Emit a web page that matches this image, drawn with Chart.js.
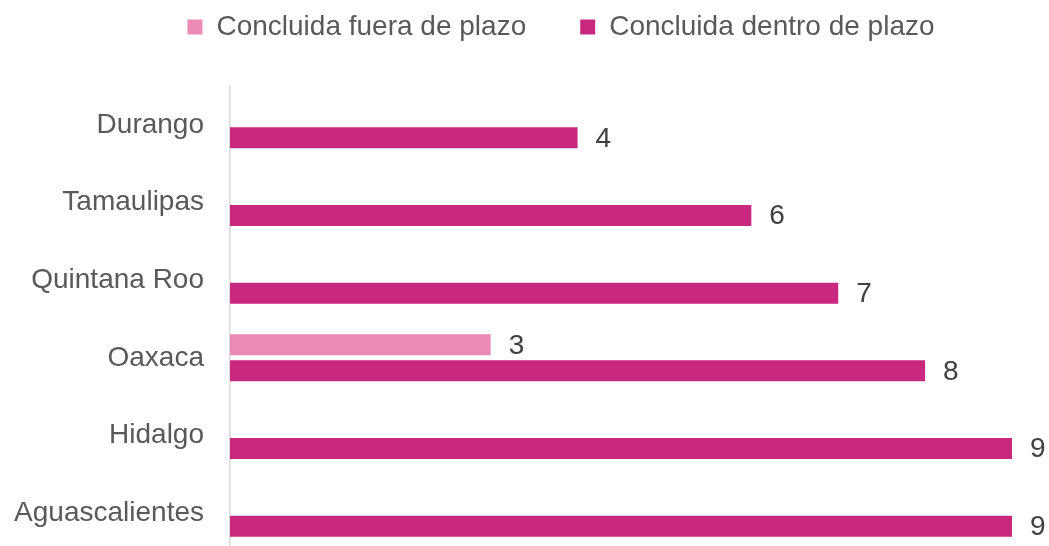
<!DOCTYPE html>
<html>
<head>
<meta charset="utf-8">
<script src="https://cdn.jsdelivr.net/npm/chart.js@4/dist/chart.umd.min.js"></script>
<style>
    html, body { margin: 0; padding: 0; background: #ffffff; overflow: hidden; }
    #chart { display: block; }
</style>
</head>
<body>
<canvas id="chart" width="1049" height="552"></canvas>
<script>
// Chart data
const estados = ['Durango', 'Tamaulipas', 'Quintana Roo', 'Oaxaca', 'Hidalgo', 'Aguascalientes'];
const fueraDePlazo = [null, null, null, 3, null, null];
const dentroDePlazo = [4, 6, 7, 8, 9, 9];
const seriesNames = ['Concluida fuera de plazo', 'Concluida dentro de plazo'];

const FONT = '"Liberation Sans", Arial, sans-serif';

// Put the legend where the original has it
const legendSpot = {
    id: 'legendSpot',
    beforeLayout(chart) {
        const legend = chart.legend;
        if (!legend || legend._fitPatched) return;
        const fit = legend.fit;
        legend.fit = function () {
            fit.call(this);
            this.height = 86;
        };
        legend._fitPatched = true;
    },
    afterLayout(chart) {
        const legend = chart.legend;
        legend.top = -41;
        legend.left += 55;
        legend.right += 55;
    }
};

// Value labels at the end of each bar
const barValues = {
    id: 'barValues',
    afterDatasetsDraw(chart) {
        const ctx = chart.ctx;
        ctx.save();
        ctx.font = '28px ' + FONT;
        ctx.fillStyle = '#404040';
        ctx.textAlign = 'left';
        ctx.textBaseline = 'middle';
        chart.data.datasets.forEach((ds, i) => {
            const meta = chart.getDatasetMeta(i);
            meta.data.forEach((bar, j) => {
                const v = ds.data[j];
                if (v === null || v === undefined) return;
                ctx.fillText(String(v), bar.x + 18, bar.y + 1);
            });
        });
        ctx.restore();
    }
};

const ctx = document.getElementById('chart').getContext('2d');
new Chart(ctx, {
    type: 'bar',
    data: {
        labels: estados,
        datasets: [{
            label: seriesNames[0],
            data: fueraDePlazo,
            backgroundColor: '#EC8AB6',
            categoryPercentage: 0.669,
            barPercentage: 0.808
        }, {
            label: seriesNames[1],
            data: dentroDePlazo,
            backgroundColor: '#C9287E',
            categoryPercentage: 0.669,
            barPercentage: 0.808
        }]
    },
    options: {
        indexAxis: 'y',
        responsive: false,
        animation: false,
        layout: { padding: { left: 0, right: 37, top: 0, bottom: 0 } },
        scales: {
            x: {
                display: false,
                min: 0,
                max: 9
            },
            y: {
                grid: { display: false },
                border: { display: true, color: '#D9D9D9', width: 1.5 },
                ticks: {
                    color: '#595959',
                    padding: 18,
                    font: { family: FONT, size: 28 }
                },
                afterFit(scale) {
                    scale.width = 230;
                    scale.paddingTop = 0;
                    scale.paddingBottom = 0;
                }
            }
        },
        plugins: {
            legend: {
                position: 'top',
                labels: {
                    boxWidth: 15,
                    boxHeight: 15,
                    padding: 54,
                    color: '#595959',
                    font: { family: FONT, size: 28 }
                }
            },
            tooltip: { enabled: false }
        }
    },
    plugins: [legendSpot, barValues]
});
</script>
</body>
</html>
